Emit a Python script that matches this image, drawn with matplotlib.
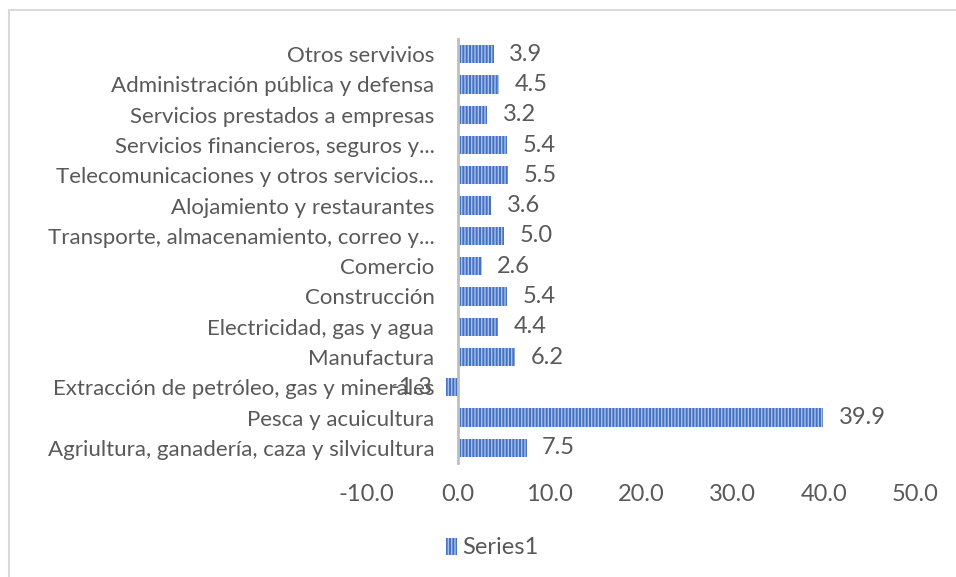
import matplotlib
matplotlib.use("Agg")
import matplotlib.pyplot as plt
from matplotlib.patches import Rectangle

categories = [
    "Agriultura, ganadería, caza y silvicultura",
    "Pesca y acuicultura",
    "Extracción de petróleo, gas y minerales",
    "Manufactura",
    "Electricidad, gas y agua",
    "Construcción",
    "Comercio",
    "Transporte, almacenamiento, correo y...",
    "Alojamiento y restaurantes",
    "Telecomunicaciones y otros servicios...",
    "Servicios financieros, seguros y...",
    "Servicios prestados a empresas",
    "Administración pública y defensa",
    "Otros servivios",
]
values = [7.5, 39.9, -1.3, 6.2, 4.4, 5.4, 2.6, 5.0, 3.6, 5.5, 5.4, 3.2, 4.5, 3.9]
xticks = [-10, 0, 10, 20, 30, 40, 50]
series_name = "Series1"

plt.rcParams['font.family'] = ['Lato', 'DejaVu Sans']
plt.rcParams['hatch.linewidth'] = 1.0
txt = '#595959'
fs_cat = 16
fs_num = 17

fig = plt.figure(figsize=(9.56, 5.77), dpi=100)
ax = fig.add_axes([366.5/956, 1-463/577, 549/956, 424/577])

y = list(range(len(categories)))
bars = ax.barh(y, values, height=0.6, color='#4472C4', edgecolor='#A9C0EA',
               linewidth=0, hatch='|||||', label=series_name)

for s in ['top', 'right', 'bottom']:
    ax.spines[s].set_visible(False)
ax.spines['left'].set_position(('data', 0))
ax.spines['left'].set_color('#BFBFBF')
ax.spines['left'].set_linewidth(2.0)

ax.set_xlim(-10, 50)
ax.set_ylim(-0.5, len(categories) - 0.5)
ax.set_xticks(xticks)
ax.set_xticklabels([f"{v:.1f}" for v in xticks], color=txt, fontsize=fs_num)
ax.set_yticks(y)
ax.set_yticklabels(categories, color=txt, fontsize=fs_cat)
ax.tick_params(axis='y', length=0, pad=17)
ax.tick_params(axis='x', length=0, pad=15)

for yi, v in zip(y, values):
    if v >= 0:
        ax.text(v + 1.7, yi, f"{v:.1f}", va='center', ha='left', color=txt,
                fontsize=fs_num, clip_on=False)
    else:
        ax.text(v - 1.5, yi, f"{v:.1f}", va='center', ha='right', color=txt,
                fontsize=fs_num, clip_on=False)

leg = fig.legend(handles=[bars], labels=[series_name], loc='center',
                 bbox_to_anchor=(492/956, 1-548/577), frameon=False,
                 fontsize=fs_num, handlelength=0.5, handleheight=0.7,
                 handletextpad=0.2, labelcolor=txt)

fig.patches.append(Rectangle((9/956, -0.1), 1.2, 1.1 - 10/577,
                             transform=fig.transFigure, fill=False,
                             edgecolor='#D9D9D9', linewidth=1.5))

fig.savefig('out.png', dpi=100)
